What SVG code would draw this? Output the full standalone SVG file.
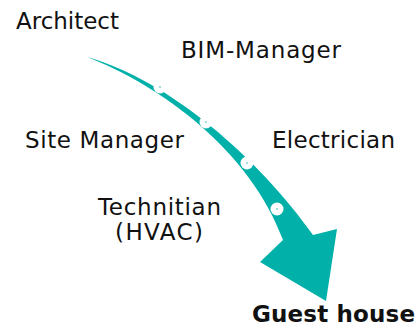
<svg xmlns="http://www.w3.org/2000/svg" width="418" height="329" viewBox="0 0 418 329">
<style>
text{font-family:"DejaVu Sans","Verdana",sans-serif;font-size:23px;fill:#111}
.b{font-weight:bold}
.dot{fill:#fff}
.c{fill:#7fd6d2}
</style>
<rect width="418" height="329" fill="#fff"/>
<g id="connectors">
<path id="arrow" d="M87,57 C170,80 260,160 313,235 L337,229 L326,301 L260,262 L283,240 C250,150 160,85 87,57 Z" fill="#00b0a9"/>
<g id="dots">
<circle class="dot" cx="160" cy="87" r="6.5"/><circle class="c" cx="160" cy="87" r="1"/>
<circle class="dot" cx="206" cy="122" r="6.5"/><circle class="c" cx="206" cy="122" r="1"/>
<circle class="dot" cx="247" cy="163" r="6.5"/><circle class="c" cx="247" cy="163" r="1"/>
<circle class="dot" cx="277" cy="209" r="6.5"/><circle class="c" cx="277" cy="209" r="1"/>
</g>
</g>
<g id="architect"><text x="16" y="29" textLength="103" lengthAdjust="spacing">Architect</text></g>
<g id="bim"><text x="181" y="58" textLength="160" lengthAdjust="spacing">BIM-Manager</text></g>
<g id="site"><text x="25" y="148" textLength="159" lengthAdjust="spacing">Site Manager</text></g>
<g id="electrician"><text x="272" y="148" textLength="123" lengthAdjust="spacing">Electrician</text></g>
<g id="technician"><text x="98" y="215" textLength="123" lengthAdjust="spacing">Technitian</text><text x="115" y="240" textLength="88" lengthAdjust="spacing">(HVAC)</text></g>
<g id="guest"><text class="b" x="252" y="322" textLength="163" lengthAdjust="spacing">Guest house</text></g>
</svg>
